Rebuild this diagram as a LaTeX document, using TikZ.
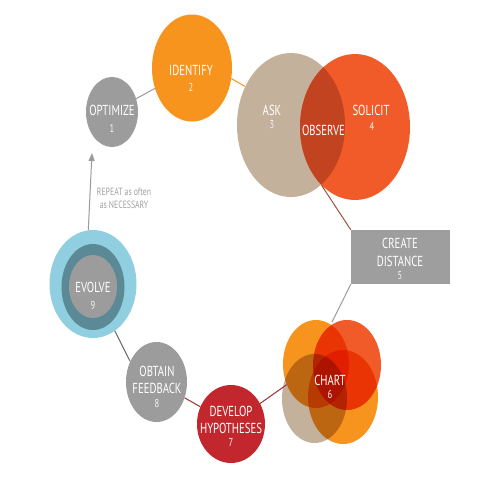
\documentclass[tikz,border=0pt]{standalone}
\usepackage{fontspec}
\newfontfamily\lblfont{PT Sans}[FakeStretch=0.74]
\usetikzlibrary{shapes.geometric,arrows.meta}
\definecolor{optgray}{HTML}{9C9C9C}
\definecolor{idorange}{HTML}{F7941D}
\definecolor{askbeige}{HTML}{C4B19C}
\definecolor{solred}{HTML}{F15A29}
\definecolor{obsred}{HTML}{C2431F}
\definecolor{rectgray}{HTML}{9E9E9E}
\definecolor{evoblue}{HTML}{8FCFE0}
\definecolor{evoteal}{HTML}{5B8A96}
\definecolor{devred}{HTML}{C1272D}
\definecolor{linkgray}{HTML}{9A9A9A}
\definecolor{linkdark}{HTML}{6A6A6A}
\definecolor{linkbrown}{HTML}{A0523A}
\definecolor{linkred}{HTML}{9E3036}
\definecolor{txtgray}{HTML}{A0A0A0}
\begin{document}
\begin{tikzpicture}[x=1pt,y=-1pt,
  blob/.style={ellipse, inner sep=0pt, draw=none},
  word/.style={text=white, font=\lblfont\fontsize{14.5}{17}\selectfont, align=center, inner sep=0pt},
  num/.style={text=white!92!gray, font=\lblfont\fontsize{11.5}{13}\selectfont, inner sep=0pt},
  link/.style={line width=1pt}]
\useasboundingbox[fill=white] (0,0) rectangle (480,480);

% nodes (shapes)
\node[blob, fill=optgray, minimum width=52pt, minimum height=70pt] (optimize) at (112,112) {};
\node[blob, fill=idorange, minimum width=80pt, minimum height=107pt] (identify) at (192,68) {};
\node[blob, fill=askbeige, minimum width=108pt, minimum height=144pt] (ask) at (291,125) {};
\node[blob, fill=solred, minimum width=110pt, minimum height=146pt] (solicit) at (355,127) {};
\begin{scope}
  \clip (291,125) ellipse [x radius=54pt, y radius=72pt];
  \fill[obsred] (355,127) ellipse [x radius=55pt, y radius=73pt];
\end{scope}
\node[fill=rectgray, minimum width=99pt, minimum height=54pt, inner sep=0pt] (cd) at (400.5,257) {};
\node[blob, fill=evoblue, minimum width=87pt, minimum height=108pt] (evolve) at (93,284) {};
\node[blob, fill=evoteal, minimum width=63pt, minimum height=86pt] (evolvemid) at (93,287) {};
\node[blob, fill=optgray, minimum width=48pt, minimum height=63pt] (evolvecore) at (93,286.5) {};
\node[blob, fill=optgray, minimum width=61pt, minimum height=80pt] (obtain) at (156.5,382) {};
\node[blob, fill=devred, minimum width=68pt, minimum height=78pt] (develop) at (231,424) {};
\coordinate (charttop) at (332,322);
\coordinate (repeattip) at (92,153);

% connectors
\draw[link, linkgray] (optimize) -- (identify);
\draw[link, idorange] (identify.-15) -- (ask.140);
\draw[link, linkbrown] (solicit.240) -- (cd.north west);
\draw[link, linkgray] (cd.south west) -- (charttop);
\draw[link, linkdark] (evolve.-65) -- (obtain.142);
\draw[link, linkred] (obtain) -- (develop);
\draw[link, linkgray, -{Triangle[length=8pt,width=6pt]}] (evolve.95) -- (repeattip);

% chart cluster
\begin{scope}[blend mode=multiply]
  \node[blob, fill=idorange, minimum width=66pt, minimum height=88pt] (chartTL) at (316,364) {};
  \node[blob, fill=solred, minimum width=68pt, minimum height=90pt] (chartTR) at (347,365) {};
  \node[blob, fill=askbeige, minimum width=65pt, minimum height=89pt] (chartBL) at (314.5,398.5) {};
  \node[blob, fill=idorange, minimum width=70pt, minimum height=94pt] (chartBR) at (343,397) {};
\end{scope}
\draw[link, linkred] (develop) -- (chartTL);

% labels
\node[word] (optlbl) at (112,110) {OPTIMIZE};
\node[num] (optnum) at (112,128) {1};
\node[word] (idlbl) at (191,70) {IDENTIFY};
\node[num] (idnum) at (191,87) {2};
\node[word] (asklbl) at (272,110) {ASK};
\node[num] (asknum) at (272,125) {3};
\node[word] (sollbl) at (371,110) {SOLICIT};
\node[num] (solnum) at (372,126) {4};
\node[word] (obslbl) at (323.5,130) {OBSERVE};
\node[word, font=\lblfont\fontsize{14.5}{18}\selectfont] (cdlbl) at (400,252) {CREATE\\DISTANCE};
\node[num] (cdnum) at (400,276) {5};
\node[word] (chartlbl) at (330,380.5) {CHART};
\node[num] (chartnum) at (330,394.5) {6};
\node[word] (devlbl) at (231,419.5) {DEVELOP\\HYPOTHESES};
\node[num] (devnum) at (231,442) {7};
\node[word] (oblbl) at (157,379.5) {OBTAIN\\FEEDBACK};
\node[num] (obnum) at (157,403) {8};
\node[word] (evolbl) at (93,287) {EVOLVE};
\node[num] (evonum) at (93,305) {9};
\node[word, text=txtgray, font=\lblfont\fontsize{10.5}{13}\selectfont] (repeatlbl) at (124,198.5) {REPEAT as often\\as NECESSARY};
\end{tikzpicture}
\end{document}
